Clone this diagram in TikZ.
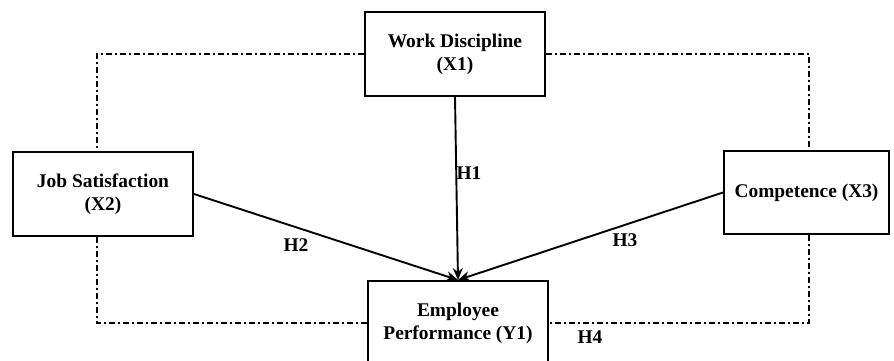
\documentclass[tikz,border=0pt]{standalone}
\usepackage{fontspec}
\setmainfont{Liberation Serif}
\usetikzlibrary{positioning, arrows.meta, calc}

\begin{document}
\begin{tikzpicture}[
        x=0.5pt, y=-0.5pt,
        varbox/.style={rectangle, draw=black, line width=1pt, fill=white, minimum width=90pt, minimum height=42pt, align=center, font=\fontsize{9.7}{11.5}\selectfont\bfseries},
        hyplabel/.style={font=\fontsize{9.7}{11.5}\selectfont\bfseries, inner sep=0pt},
        arr/.style={-{Stealth[length=6pt, width=5pt]}, line width=0.95pt, black},
        frame/.style={line width=0.7pt, dash pattern=on 3pt off 1.6pt on 0.8pt off 1.6pt},
    ]
        \useasboundingbox (0,0) rectangle (894,360);
        \clip (0,0) rectangle (894,360);

        % Variables
        \node[varbox] (wd) at (455,54) {Work Discipline\\(X1)};
        \node[varbox] (js) at (103,194) {Job Satisfaction\\(X2)};
        \node[varbox, minimum width=82.5pt, minimum height=41.5pt] (comp) at (806.5,192.5) {Competence (X3)};
        \node[varbox] (ep) at (458,323) {Employee\\Performance (Y1)};

        % Dash-dot frame (simultaneous effect)
        \coordinate (tl) at (97,54);
        \coordinate (tr) at (809,54);
        \draw[frame] (wd.west) -- (tl) -- (tl |- js.north);
        \draw[frame] (tl |- js.south) |- (ep.west);
        \draw[frame] (wd.east) -- (tr) -- (tr |- comp.north);
        \draw[frame] (tr |- comp.south) |- (ep.east);

        % Hypothesis arrows
        \draw[arr] (wd.south) -- (ep.north);
        \draw[arr] (js.east) -- (ep.north);
        \draw[arr] (comp.west) -- (ep.north);

        % Labels
        \node[hyplabel] (h1) at (469,173) {H1};
        \node[hyplabel] (h2) at (296,245) {H2};
        \node[hyplabel] (h3) at (625,240) {H3};
        \node[hyplabel] (h4) at (590,337) {H4};
    \end{tikzpicture}
\end{document}
